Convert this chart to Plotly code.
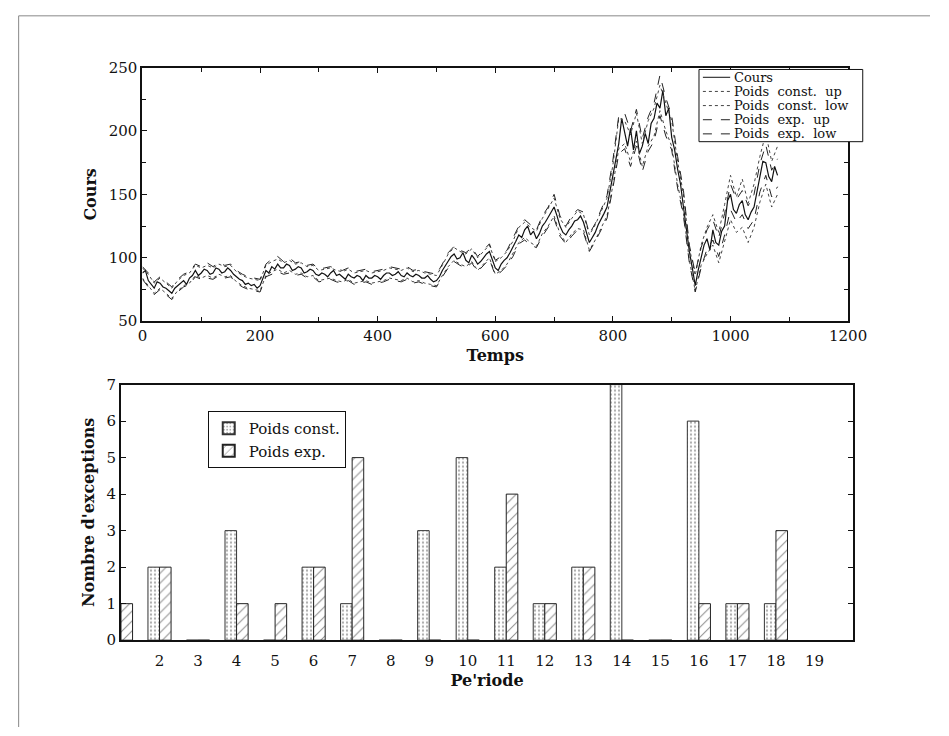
import plotly.graph_objects as go

# ---------------- data ----------------
# Price series (Cours), sampled every 5 time units from t=0
cours = [88, 90, 82, 79, 76, 81, 80, 77, 76, 74, 72, 76, 78, 80, 82, 79, 84, 86, 90, 86,
         88, 91, 90, 87, 88, 92, 91, 88, 89, 92, 90, 87, 85, 83, 82, 79, 80, 78, 79, 76,
         78, 84, 90, 88, 93, 91, 95, 92, 92, 95, 94, 90, 91, 93, 92, 88, 89, 91, 90, 87,
         86, 88, 87, 85, 88, 90, 86, 87, 85, 83, 87, 85, 84, 86, 85, 82, 86, 84, 84, 86,
         85, 83, 86, 88, 88, 86, 87, 89, 86, 85, 88, 86, 85, 87, 86, 84, 84, 86, 83, 81,
         82, 85, 90, 94, 98, 101, 103, 99, 100, 104, 98, 96, 102, 99, 95, 97, 100, 103, 105, 98,
         92, 90, 95, 98, 100, 104, 108, 113, 118, 116, 122, 125, 118, 121, 115, 119, 125, 128, 132, 136,
         140, 133, 125, 120, 118, 122, 125, 129, 130, 133, 128, 120, 112, 116, 120, 126, 130, 135, 140, 152,
         165, 178, 190, 210, 198, 188, 202, 185, 200, 182, 188, 198, 190, 206, 210, 222, 218, 232, 212, 218,
         195, 185, 170, 158, 140, 120, 105, 92, 78, 90, 100, 110, 115, 106, 122, 112, 110, 121, 125, 145,
         150, 138, 135, 142, 145, 134, 130, 136, 140, 152, 165, 176, 175, 164, 160, 172, 165]

# Bands, sampled every 10 time units from t=0
const_up = [92, 87, 80, 84, 80, 76, 82, 86, 88, 94, 92, 94, 92, 95, 93, 94, 89, 86, 84, 83,
            82, 94, 97, 99, 96, 98, 95, 96, 93, 94, 90, 91, 92, 90, 89, 91, 88, 89, 90, 88,
            89, 90, 92, 91, 90, 92, 89, 90, 88, 87, 86, 94, 103, 108, 105, 103, 107, 100, 105, 110,
            97, 100, 105, 113, 124, 128, 124, 121, 131, 139, 147, 131, 124, 131, 137, 134, 118, 126, 137, 147,
            173, 210, 208, 197, 214, 190, 208, 218, 236, 222, 208, 176, 150, 108, 86, 110, 124, 134, 120, 142,
            165, 148, 162, 143, 158, 180, 198, 176, 188]
const_low = [84, 78, 72, 76, 72, 68, 74, 78, 80, 86, 84, 86, 84, 87, 85, 86, 81, 78, 76, 75,
             74, 86, 89, 91, 88, 90, 87, 88, 85, 86, 82, 83, 84, 82, 81, 83, 80, 81, 82, 80,
             81, 82, 84, 83, 82, 84, 81, 82, 80, 79, 78, 86, 93, 98, 95, 93, 97, 90, 95, 100,
             87, 90, 95, 103, 112, 116, 112, 109, 119, 125, 133, 119, 112, 119, 123, 122, 106, 114, 123, 133,
             157, 186, 190, 176, 192, 172, 188, 196, 216, 200, 188, 158, 135, 98, 74, 94, 103, 110, 96, 114,
             130, 120, 124, 112, 124, 144, 158, 140, 150]
exp_up = [93, 88, 81, 85, 81, 77, 83, 87, 89, 95, 93, 96, 93, 96, 94, 95, 90, 87, 85, 84,
          83, 95, 99, 101, 97, 100, 96, 97, 94, 95, 91, 92, 93, 91, 90, 92, 89, 90, 91, 89,
          90, 91, 93, 92, 91, 93, 90, 91, 89, 88, 87, 95, 104, 109, 106, 104, 108, 101, 106, 111,
          98, 101, 106, 115, 125, 130, 126, 122, 133, 140, 150, 133, 125, 133, 138, 136, 119, 127, 138, 149,
          177, 212, 214, 200, 217, 194, 211, 222, 244, 226, 212, 180, 153, 110, 88, 108, 122, 130, 116, 135,
          158, 146, 153, 141, 150, 174, 189, 169, 178]
exp_low = [83, 77, 71, 75, 71, 67, 73, 77, 79, 85, 83, 84, 83, 86, 84, 85, 80, 77, 75, 74,
           73, 85, 87, 89, 87, 88, 86, 87, 84, 85, 81, 82, 83, 81, 80, 82, 79, 80, 81, 79,
           80, 81, 83, 82, 81, 83, 80, 81, 79, 78, 77, 85, 92, 97, 94, 92, 96, 89, 94, 99,
           86, 89, 94, 101, 111, 114, 110, 108, 117, 124, 131, 117, 111, 117, 122, 120, 105, 113, 122, 131,
           155, 182, 186, 172, 188, 168, 184, 192, 212, 196, 185, 155, 133, 96, 73, 92, 107, 114, 101, 118,
           138, 128, 134, 123, 130, 152, 165, 148, 156]

t_cours = [5 * i for i in range(len(cours))]
t_band = [10 * i for i in range(len(const_up))]

periodes = list(range(1, 20))
exc_const = [0, 2, 0, 3, 0, 2, 1, 0, 3, 5, 2, 1, 2, 7, 0, 6, 1, 1, None]
exc_exp = [1, 2, 0, 1, 1, 2, 5, 0, 0, 0, 4, 1, 2, 0, 0, 1, 1, 3, None]
period_ticks = list(range(2, 20))

top_legend_labels = ["Cours", "Poids\u00a0 const.\u00a0 up", "Poids\u00a0 const.\u00a0 low",
                     "Poids\u00a0 exp.\u00a0 up", "Poids\u00a0 exp.\u00a0 low"]

# ---------------- figure ----------------
W, H = 949, 736
FONT = "DejaVu Serif"


def px(x):
    return x / W


def py(y):
    return 1 - y / H


fig = go.Figure()

fig.add_trace(go.Scatter(x=t_cours, y=cours, mode="lines", name="Cours",
                         line=dict(color="#111", width=1.2), showlegend=False,
                         xaxis="x", yaxis="y"))
fig.add_trace(go.Scatter(x=t_band, y=const_up, mode="lines", name="Poids const. up",
                         line=dict(color="#444", width=1, dash="dot"), showlegend=False,
                         xaxis="x", yaxis="y"))
fig.add_trace(go.Scatter(x=t_band, y=const_low, mode="lines", name="Poids const. low",
                         line=dict(color="#444", width=1, dash="dot"), showlegend=False,
                         xaxis="x", yaxis="y"))
fig.add_trace(go.Scatter(x=t_band, y=exp_up, mode="lines", name="Poids exp. up",
                         line=dict(color="#222", width=1, dash="dash"), showlegend=False,
                         xaxis="x", yaxis="y"))
fig.add_trace(go.Scatter(x=t_band, y=exp_low, mode="lines", name="Poids exp. low",
                         line=dict(color="#222", width=1, dash="dash"), showlegend=False,
                         xaxis="x", yaxis="y"))

fig.add_trace(go.Bar(x=periodes, y=exc_const, name="Poids const.",
                     offset=-0.3, width=0.3,
                     marker=dict(color="white", line=dict(color="#333", width=1),
                                 pattern=dict(shape=".", size=4, solidity=0.25,
                                              fgcolor="#555", bgcolor="white")),
                     xaxis="x2", yaxis="y2"))
fig.add_trace(go.Bar(x=periodes, y=exc_exp, name="Poids exp.",
                     offset=0, width=0.3,
                     marker=dict(color="white", line=dict(color="#222", width=1),
                                 pattern=dict(shape="/", size=7, solidity=0.15,
                                              fgcolor="#222", bgcolor="white")),
                     xaxis="x2", yaxis="y2"))

axis_common = dict(showgrid=False, zeroline=False, showline=True, linecolor="#111",
                   linewidth=2, mirror="allticks", ticks="inside", tickcolor="#111",
                   tickfont=dict(family=FONT, size=15, color="#111"))

shapes = [
    # outer frame (top and left edges)
    dict(type="line", xref="paper", yref="paper", x0=px(14), x1=1.0, y0=py(7), y1=py(7),
         line=dict(color="#888", width=1)),
    dict(type="line", xref="paper", yref="paper", x0=px(14), x1=px(14), y0=py(7), y1=0,
         line=dict(color="#888", width=1)),
    # top legend box
    dict(type="rect", xref="paper", yref="paper", x0=px(712), x1=px(880), y0=py(62), y1=py(136),
         line=dict(color="#111", width=1), fillcolor="white", layer="above"),
]

annotations = []
leg_styles = [("#111", "solid"), ("#444", "dot"), ("#444", "dot"), ("#222", "dash"), ("#222", "dash")]
for i, (lab, (col, dsh)) in enumerate(zip(top_legend_labels, leg_styles)):
    yc = 70 + i * 14.5
    shapes.append(dict(type="line", xref="paper", yref="paper", x0=px(716), x1=px(744),
                       y0=py(yc), y1=py(yc), line=dict(color=col, width=1, dash=dsh), layer="above"))
    annotations.append(dict(xref="paper", yref="paper", x=px(746), y=py(yc), text=lab,
                            showarrow=False, xanchor="left", yanchor="middle",
                            font=dict(family=FONT, size=13, color="#111")))

fig.update_layout(
    width=W, height=H,
    margin=dict(l=0, r=0, t=0, b=0),
    paper_bgcolor="white", plot_bgcolor="white",
    barmode="overlay",
    showlegend=True,
    legend=dict(x=px(208), y=py(412), xanchor="left", yanchor="top",
                bordercolor="#111", borderwidth=1, bgcolor="white",
                font=dict(family=FONT, size=15, color="#111"),
                itemsizing="constant", tracegroupgap=0, itemwidth=30),
    xaxis=dict(domain=[px(141), px(865)], range=[0, 1200], dtick=200, tick0=0,
               ticklen=5, minor=dict(dtick=100, ticks="inside", ticklen=4, tickcolor="#111"),
               title=dict(text="<b>Temps</b>", font=dict(family=FONT, size=16, color="#111"), standoff=6),
               anchor="y", **axis_common),
    yaxis=dict(domain=[py(320), py(60)], range=[50, 250], dtick=50, tick0=50,
               ticklen=5, minor=dict(dtick=25, ticks="inside", ticklen=4, tickcolor="#111"),
               title=dict(text="<b>Cours</b>", font=dict(family=FONT, size=16, color="#111"), standoff=8),
               anchor="x", **axis_common),
    xaxis2=dict(domain=[px(119), px(870)], range=[1, 20], tickmode="array", tickvals=period_ticks,
                ticktext=[str(v) for v in period_ticks], ticklabelstandoff=6,
                title=dict(text="<b>Pe'riode</b>", font=dict(family=FONT, size=16, color="#111"), standoff=6),
                anchor="y2", showgrid=False, zeroline=False, showline=True, linecolor="#111",
                linewidth=2, mirror=True, ticks="",
                tickfont=dict(family=FONT, size=15, color="#111")),
    yaxis2=dict(domain=[py(647), py(385)], range=[0, 7], dtick=1, tick0=0, ticklen=5,
                title=dict(text="<b>Nombre d'exceptions</b>", font=dict(family=FONT, size=16, color="#111"), standoff=8),
                anchor="x2", **axis_common),
    shapes=shapes,
    annotations=annotations,
)

fig.write_html("out.html")
